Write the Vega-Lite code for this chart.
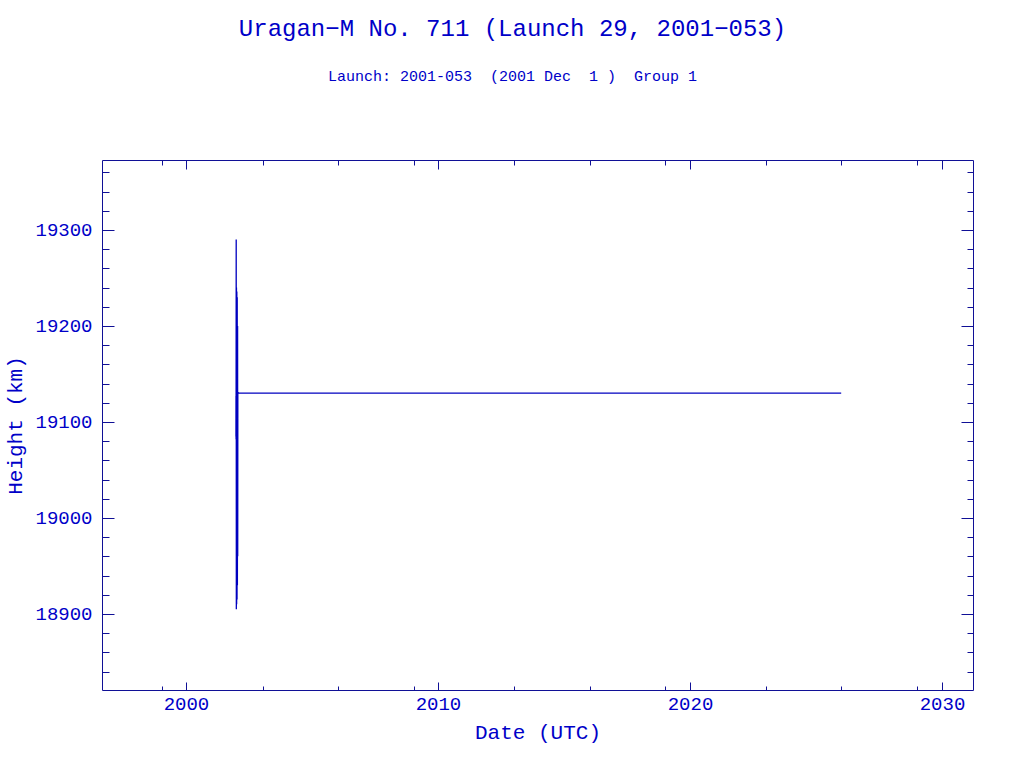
{
  "$schema": "https://vega.github.io/schema/vega-lite/v6.json",
  "width": 871,
  "height": 530,
  "autosize": {"type": "none"},
  "padding": {"left": 102, "top": 160, "right": 51, "bottom": 78},
  "background": "white",
  "title": {
    "text": "Uragan−M No. 711 (Launch 29, 2001−053)",
    "subtitle": "Launch: 2001-053\u00a0\u00a0(2001 Dec\u00a0\u00a01 )\u00a0\u00a0Group 1",
    "anchor": "middle",
    "dx": -25,
    "offset": 76,
    "font": "Liberation Mono",
    "fontSize": 24,
    "fontWeight": "normal",
    "color": "#0000c8",
    "subtitleFont": "Liberation Mono",
    "subtitleFontSize": 15,
    "subtitleColor": "#0000c8",
    "subtitlePadding": 28
  },
  "data": {"values": [
    {"t": 2001.985, "h": 19085},
    {"t": 2001.987, "h": 19127},
    {"t": 2001.99, "h": 19082},
    {"t": 2001.995, "h": 19290},
    {"t": 2002.0, "h": 18905},
    {"t": 2002.005, "h": 19240},
    {"t": 2002.012, "h": 18910},
    {"t": 2002.02, "h": 19236},
    {"t": 2002.028, "h": 18915},
    {"t": 2002.035, "h": 19230},
    {"t": 2002.042, "h": 18930},
    {"t": 2002.05, "h": 19200},
    {"t": 2002.055, "h": 18960},
    {"t": 2002.06, "h": 19131},
    {"t": 2002.1, "h": 19130},
    {"t": 2005, "h": 19130},
    {"t": 2010, "h": 19130},
    {"t": 2015, "h": 19130},
    {"t": 2020, "h": 19130},
    {"t": 2026.0, "h": 19130}
  ]},
  "config": {
    "view": {"stroke": "#101096", "strokeWidth": 1},
    "axis": {
      "domain": false,
      "grid": false,
      "tickColor": "#101096",
      "tickWidth": 1,
      "labelFont": "Liberation Mono",
      "labelFontSize": 19,
      "labelColor": "#0000c8",
      "titleFont": "Liberation Mono",
      "titleFontSize": 21,
      "titleFontWeight": "normal",
      "titleColor": "#0000c8"
    }
  },
  "layer": [
    {
      "mark": {"type": "line", "color": "#0000c0", "strokeWidth": 1.3},
      "encoding": {
        "x": {"field": "t", "type": "quantitative",
          "scale": {"domain": [1996.67, 2031.23], "nice": false, "zero": false},
          "axis": {"orient": "bottom", "values": [2000, 2010, 2020, 2030], "format": "d", "tickSize": -8, "labelPadding": 12, "title": "Date (UTC)", "titleX": 435.5, "titleY": 42, "titleBaseline": "middle", "titleAnchor": "middle"}},
        "y": {"field": "h", "type": "quantitative",
          "scale": {"domain": [18820.8, 19372.9], "nice": false, "zero": false},
          "axis": {"orient": "left", "values": [18900, 19000, 19100, 19200, 19300], "format": "d", "tickSize": -12, "labelPadding": 22, "title": "Height (km)", "titleX": -87, "titleY": 265, "titleBaseline": "middle", "titleAnchor": "middle", "titleAngle": -90}}
      }
    },
    {
      "mark": {"type": "line", "opacity": 0},
      "encoding": {
        "x": {"field": "t", "type": "quantitative",
          "axis": {"orient": "top", "values": [2000, 2010, 2020, 2030], "tickSize": -9, "labels": false, "title": null}},
        "y": {"field": "h", "type": "quantitative",
          "axis": {"orient": "right", "values": [18900, 19000, 19100, 19200, 19300], "tickSize": -12, "labels": false, "title": null}}
      }
    },
    {
      "mark": {"type": "line", "opacity": 0},
      "encoding": {
        "x": {"field": "t", "type": "quantitative",
          "axis": {"orient": "bottom", "values": [1999.05, 2003.05, 2006.03, 2009.05, 2013.0, 2016.03, 2019.0, 2023.0, 2026.0, 2029.0], "tickSize": -4, "labels": false, "title": null}},
        "y": {"field": "h", "type": "quantitative",
          "axis": {"orient": "left", "values": [18840, 18860, 18880, 18920, 18940, 18960, 18980, 19020, 19040, 19060, 19080, 19120, 19140, 19160, 19180, 19220, 19240, 19260, 19280, 19320, 19340, 19360], "tickSize": -7, "labels": false, "title": null}}
      }
    },
    {
      "mark": {"type": "line", "opacity": 0},
      "encoding": {
        "x": {"field": "t", "type": "quantitative",
          "axis": {"orient": "top", "values": [1999.05, 2003.05, 2006.03, 2009.05, 2013.0, 2016.03, 2019.0, 2023.0, 2026.0, 2029.0], "tickSize": -5, "labels": false, "title": null}},
        "y": {"field": "h", "type": "quantitative",
          "axis": {"orient": "right", "values": [18840, 18860, 18880, 18920, 18940, 18960, 18980, 19020, 19040, 19060, 19080, 19120, 19140, 19160, 19180, 19220, 19240, 19260, 19280, 19320, 19340, 19360], "tickSize": -6, "labels": false, "title": null}}
      }
    }
  ],
  "resolve": {"axis": {"x": "independent", "y": "independent"}}
}
